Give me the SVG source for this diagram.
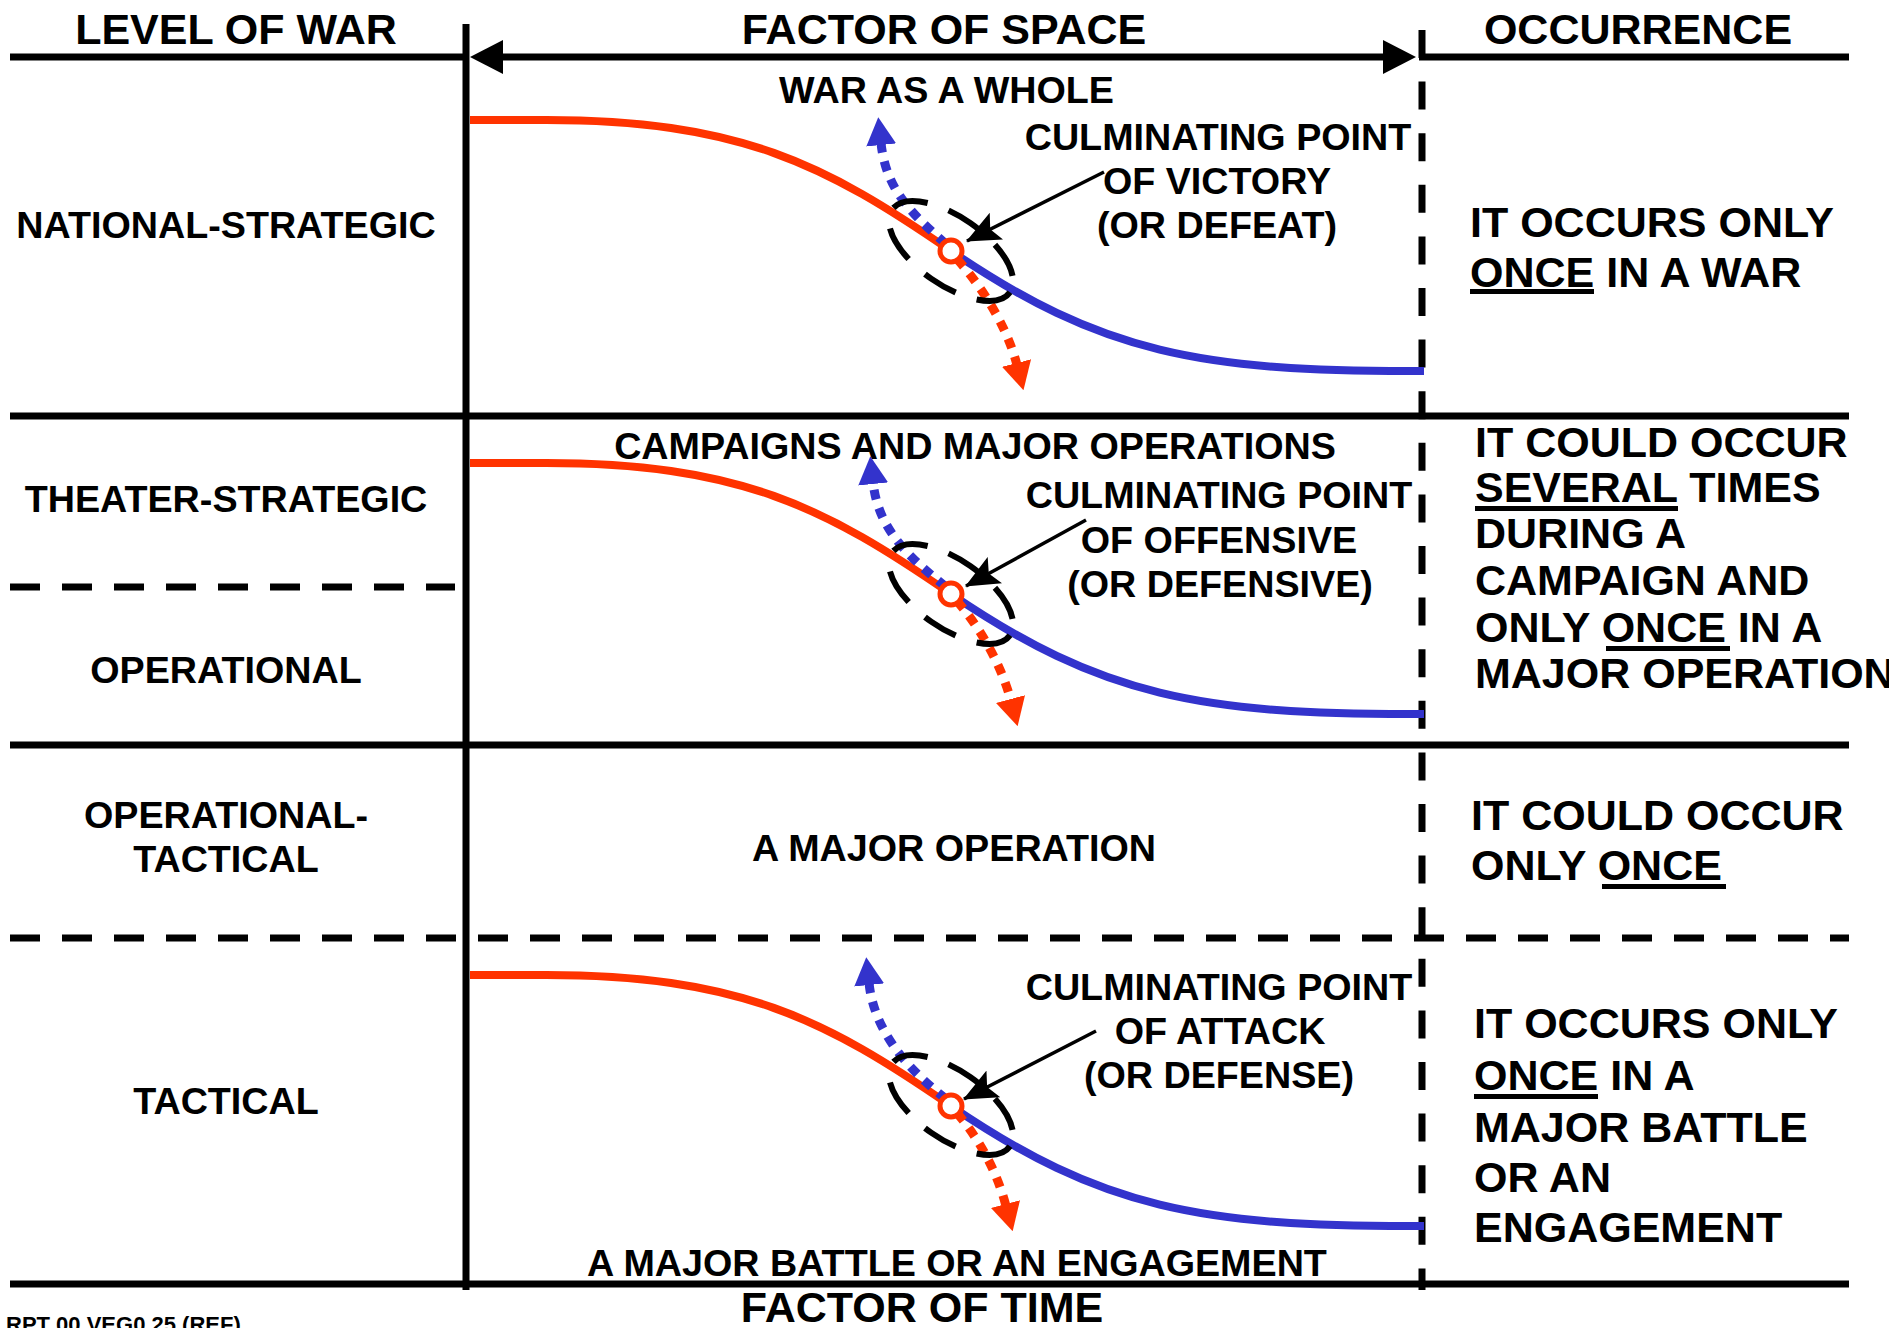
<svg xmlns="http://www.w3.org/2000/svg" width="1889" height="1328" viewBox="0 0 1889 1328">
<defs>
<style>
text{font-family:"Liberation Sans",Arial,sans-serif;font-weight:bold;fill:#000}
.h{font-size:43px}
.m{font-size:37.7px}
.r{font-size:43px}
.c{text-anchor:middle}
.ln{stroke:#000;stroke-width:7;fill:none}
.dl{stroke:#000;stroke-width:7;fill:none;stroke-dasharray:30 22}
.dv{stroke:#000;stroke-width:7;fill:none;stroke-dasharray:28 23.6}
.red{stroke:#FF3300;stroke-width:8;fill:none}
.blue{stroke:#3333CC;stroke-width:8;fill:none}
.rdot{stroke:#FF3300;stroke-width:9;fill:none;stroke-dasharray:10 9}
.bdot{stroke:#3333CC;stroke-width:9;fill:none;stroke-dasharray:10 9}
.ell{stroke:#000;stroke-width:6;fill:none;stroke-dasharray:36 22}
.cp{stroke:#FF3300;stroke-width:5;fill:#fff}
.ptr{stroke:#000;stroke-width:3.5;fill:none}
</style>
<marker id="mB" markerUnits="userSpaceOnUse" markerWidth="28" markerHeight="30" refX="2" refY="15" orient="auto" viewBox="0 0 28 30"><path d="M0,0 L28,15 L0,30 z" fill="#3333CC"/></marker>
<marker id="mR" markerUnits="userSpaceOnUse" markerWidth="28" markerHeight="30" refX="2" refY="15" orient="auto" viewBox="0 0 28 30"><path d="M0,0 L28,15 L0,30 z" fill="#FF3300"/></marker>
<marker id="mK" markerUnits="userSpaceOnUse" markerWidth="34" markerHeight="30" refX="33" refY="15" orient="auto" viewBox="0 0 34 30"><path d="M0,0 L34,15 L0,30 L7,15 z" fill="#000"/></marker>
</defs>
<rect width="1889" height="1328" fill="#fff"/>

<g id="grid">
<line class="ln" x1="10" y1="57" x2="466" y2="57"/>
<line class="ln" x1="1419" y1="57" x2="1849" y2="57"/>
<line class="ln" x1="500" y1="57" x2="1386" y2="57"/>
<polygon points="470,57 503,40 503,74" fill="#000"/>
<polygon points="1416,57 1383,40 1383,74" fill="#000"/>
<line class="ln" x1="466" y1="24" x2="466" y2="1290"/>
<line class="dv" x1="1422" y1="30" x2="1422" y2="1290"/>
<line class="ln" x1="10" y1="416" x2="1849" y2="416"/>
<line class="dl" x1="10" y1="587" x2="455" y2="587"/>
<line class="ln" x1="10" y1="745" x2="1849" y2="745"/>
<line class="dl" x1="10" y1="938" x2="1849" y2="938"/>
<line class="ln" x1="10" y1="1284" x2="1849" y2="1284"/>
</g>

<g id="headers">
<text class="h c" x="236" y="44">LEVEL OF WAR</text>
<text class="h c" x="944" y="44">FACTOR OF SPACE</text>
<text class="h c" x="1638" y="44">OCCURRENCE</text>
<text class="h c" x="922" y="1322">FACTOR OF TIME</text>
<text x="6" y="1332" style="font-size:22px">RPT 00 VEG0 25 (REF)</text>
</g>

<g id="levels">
<text class="m c" x="226" y="238">NATIONAL-STRATEGIC</text>
<text class="m c" x="226" y="512">THEATER-STRATEGIC</text>
<text class="m c" x="226" y="683">OPERATIONAL</text>
<text class="m c" x="226" y="828">OPERATIONAL-</text>
<text class="m c" x="226" y="872">TACTICAL</text>
<text class="m c" x="226" y="1114">TACTICAL</text>
</g>

<g id="row1">
<text class="m" x="779" y="103">WAR AS A WHOLE</text>
<path class="red" d="M470,120 L540,120 C740,119 826,165 951,251"/>
<path class="blue" d="M951,251 C1101,353 1200,372 1424,371"/>
<path class="bdot" d="M946,244 C912,214 886,190 881,143" marker-end="url(#mB)"/>
<path class="rdot" d="M957,259 C985,290 1008,330 1017,365" marker-end="url(#mR)"/>
<ellipse class="ell" cx="0" cy="0" rx="72" ry="34" transform="translate(951,251) rotate(35)"/>
<circle class="cp" cx="951" cy="251" r="11"/>
<path class="ptr" d="M1104,172 L967,241" marker-end="url(#mK)"/>
<text class="m c" x="1218" y="150">CULMINATING POINT</text>
<text class="m c" x="1217" y="194">OF VICTORY</text>
<text class="m c" x="1217" y="238">(OR DEFEAT)</text>
</g>

<g id="row2">
<text class="m c" x="975" y="459">CAMPAIGNS AND MAJOR OPERATIONS</text>
<path class="red" d="M470,463 L540,463 C740,462 826,508 951,594"/>
<path class="blue" d="M951,594 C1101,696 1200,715 1424,714"/>
<path class="bdot" d="M946,587 C910,558 878,530 873,482" marker-end="url(#mB)"/>
<path class="rdot" d="M957,601 C982,630 1002,667 1011,701" marker-end="url(#mR)"/>
<ellipse class="ell" cx="0" cy="0" rx="72" ry="34" transform="translate(951,594) rotate(35)"/>
<circle class="cp" cx="951" cy="594" r="11"/>
<path class="ptr" d="M1086,520 L966,586" marker-end="url(#mK)"/>
<text class="m c" x="1219" y="508">CULMINATING POINT</text>
<text class="m c" x="1219" y="553">OF OFFENSIVE</text>
<text class="m c" x="1220" y="597">(OR DEFENSIVE)</text>
</g>

<g id="row3">
<text class="m c" x="954" y="861">A MAJOR OPERATION</text>
</g>

<g id="row4">
<path class="red" d="M470,975 L540,975 C740,974 826,1020 951,1106"/>
<path class="blue" d="M951,1106 C1101,1208 1200,1227 1424,1226"/>
<path class="bdot" d="M946,1099 C906,1068 874,1030 869,983" marker-end="url(#mB)"/>
<path class="rdot" d="M957,1113 C980,1140 997,1172 1006,1206" marker-end="url(#mR)"/>
<ellipse class="ell" cx="0" cy="0" rx="72" ry="34" transform="translate(951,1105) rotate(35)"/>
<circle class="cp" cx="951" cy="1106" r="11"/>
<path class="ptr" d="M1096,1031 L964,1099" marker-end="url(#mK)"/>
<text class="m c" x="1219" y="1000">CULMINATING POINT</text>
<text class="m c" x="1220" y="1044">OF ATTACK</text>
<text class="m c" x="1219" y="1088">(OR DEFENSE)</text>
<text class="m c" x="957" y="1276">A MAJOR BATTLE OR AN ENGAGEMENT</text>
</g>

<g id="occurrence">
<text class="r" x="1470" y="237">IT OCCURS ONLY</text>
<text class="r" x="1470" y="287">ONCE IN A WAR</text>
<rect x="1470" y="289" width="124" height="5"/>

<text class="r" x="1475" y="457">IT COULD OCCUR</text>
<text class="r" x="1475" y="502">SEVERAL TIMES</text>
<rect x="1475" y="506" width="203" height="5"/>
<text class="r" x="1475" y="548">DURING A</text>
<text class="r" x="1475" y="595">CAMPAIGN AND</text>
<text class="r" x="1475" y="642">ONLY ONCE IN A</text>
<rect x="1606" y="646" width="124" height="5"/>
<text class="r" x="1475" y="688">MAJOR OPERATION</text>

<text class="r" x="1471" y="830">IT COULD OCCUR</text>
<text class="r" x="1471" y="880">ONLY ONCE</text>
<rect x="1602" y="884" width="124" height="5"/>

<text class="r" x="1474" y="1038">IT OCCURS ONLY</text>
<text class="r" x="1474" y="1090">ONCE IN A</text>
<rect x="1474" y="1094" width="124" height="5"/>
<text class="r" x="1474" y="1142">MAJOR BATTLE</text>
<text class="r" x="1474" y="1192">OR AN</text>
<text class="r" x="1474" y="1242">ENGAGEMENT</text>
</g>
</svg>
